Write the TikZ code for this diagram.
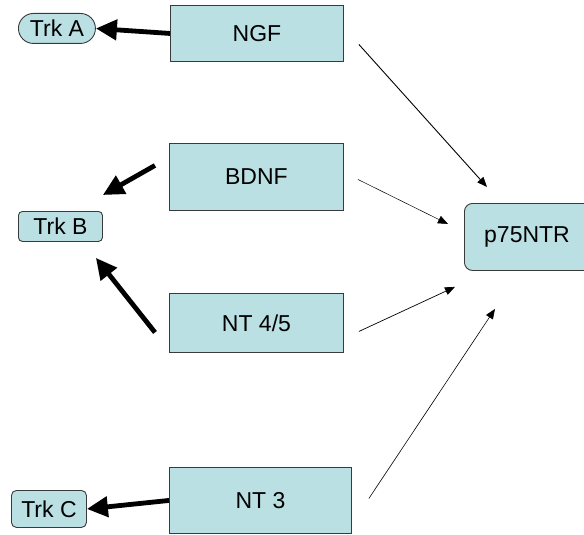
\documentclass[tikz,border=0pt]{standalone}
\usepackage{fontspec}
\setmainfont{Liberation Sans}
\usetikzlibrary{arrows.meta}
\definecolor{boxfill}{HTML}{BBE0E3}
\definecolor{boxline}{HTML}{3A3A3A}
\tikzset{
  recbox/.style={draw=boxline, line width=0.9pt, fill=boxfill, inner sep=0pt, anchor=north west,
    font=\fontsize{23}{27}\selectfont},
  thinarrow/.style={draw=black, line width=0.7pt, -{Triangle[length=10pt,width=8pt]}},
  thickarrow/.style={draw=black, line width=4.8pt, -{Triangle[length=21pt,width=20pt]}},
}
\begin{document}
\begin{tikzpicture}[x=1pt,y=-1pt]
\useasboundingbox (0,0) rectangle (584,535);
\begin{scope}
\clip (0,0) rectangle (584,535);
\node[recbox, minimum width=150pt, minimum height=67pt, rounded corners=8pt] (p75) at (464,203) {};
\end{scope}
\node[font=\fontsize{23}{27}\selectfont, inner sep=0pt] (p75text) at (527,236.5) {p75NTR};

\node[recbox, minimum width=173pt, minimum height=56pt] (ngf) at (170,5) {NGF};
\node[recbox, minimum width=174pt, minimum height=67pt] (bdnf) at (169,143) {BDNF};
\node[recbox, minimum width=174pt, minimum height=59pt] (nt45) at (169,293) {NT 4/5};
\node[recbox, minimum width=182pt, minimum height=66pt] (nt3) at (169,467) {NT 3};

\node[recbox, minimum width=77pt, minimum height=30pt, rounded corners=15pt] (trka) at (18,13) {Trk A};
\node[recbox, minimum width=84pt, minimum height=30pt, rounded corners=4pt] (trkb) at (18,211) {Trk B};
\node[recbox, minimum width=75pt, minimum height=37pt, rounded corners=5pt] (trkc) at (11,490) {Trk C};

\draw[thickarrow] (ngf.west) -- (trka.east);
\draw[thickarrow] (nt3.west) -- (trkc.east);
\draw[thickarrow] ([shift={(-14pt,11.5pt)}]bdnf.west) -- ([yshift=16pt]trkb.north east);
\draw[thickarrow] ([shift={(-14pt,-9.5pt)}]nt45.west) -- ([shift={(-7pt,-16pt)}]trkb.south east);

\draw[thinarrow, line width=0.9pt] ([shift={(15pt,-11pt)}]ngf.east) -- ([shift={(23pt,16pt)}]p75.north west);
\draw[thinarrow, line width=0.5pt] ([shift={(14pt,-2.5pt)}]bdnf.east) -- ([shift={(-16pt,-21pt)}]p75.north west);
\draw[thinarrow, line width=0.7pt] ([shift={(15pt,-8.5pt)}]nt45.east) -- ([shift={(-9pt,-16pt)}]p75.south west);
\draw[thinarrow, line width=0.6pt] ([shift={(17pt,2pt)}]nt3.east) -- ([shift={(31pt,-38pt)}]p75.south west);
\end{tikzpicture}
\end{document}
